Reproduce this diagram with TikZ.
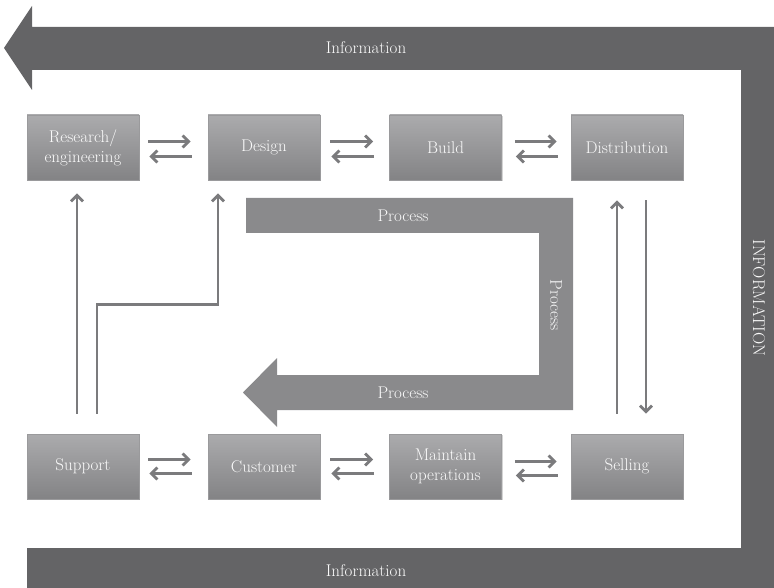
\documentclass[tikz,border=0pt]{standalone}
\usetikzlibrary{arrows.meta,shadows}

\definecolor{infogray}{HTML}{646466}
\definecolor{procgray}{HTML}{8A8A8C}
\definecolor{boxtop}{HTML}{ABABAD}
\definecolor{boxbot}{HTML}{838385}
\definecolor{boxedge}{HTML}{9A9A9C}
\definecolor{flowgray}{HTML}{7B7B7D}
\definecolor{labelwhite}{HTML}{FAFAFA}

\tikzset{
  labelfont/.style={font=\fontsize{17}{20}\selectfont},
  stage/.style={labelfont, minimum width=112pt, minimum height=65pt, inner sep=0pt,
    top color=boxtop, bottom color=boxbot, draw=boxedge, line width=0.6pt,
    text=labelwhite, align=center,
    drop shadow={opacity=0.35, shadow xshift=1.2pt, shadow yshift=-1.2pt}},
  flow/.style={draw=flowgray, line width=2.8pt,
    -{Straight Barb[length=6pt,width=12pt]}},
  banner/.style={labelfont, text=labelwhite, inner sep=0pt}
}

\begin{document}
\begin{tikzpicture}[x=1pt,y=-1pt]
\useasboundingbox (0,0) rectangle (774,588);

% outer information loop
\fill[infogray] (32,6) -- (4,48) -- (32,90) -- (32,70) -- (741,70) -- (741,548)
  -- (27,548) -- (27,588) -- (774,588) -- (774,27) -- (32,27) -- cycle;

% inner process arrow
\fill[procgray] (246,198) -- (573,198) -- (573,410) -- (277,410) -- (277,427)
  -- (243,392.5) -- (277,358) -- (277,375) -- (539,375) -- (539,233) -- (246,233) -- cycle;

% labels on the bands
\node[banner] (infotop) at (366,48) {Information};
\node[banner] (infobot) at (366,571) {Information};
\node[banner, rotate=-90] (inforight) at (759,298) {INFORMATION};
\node[banner] (proctop) at (403,216) {Process};
\node[banner, rotate=-90] (procright) at (556,305) {Process};
\node[banner] (procbot) at (403,393) {Process};

% stages
\node[stage] (research) at (83,147.5) {Research/\\engineering};
\node[stage] (design) at (264,147.5) {Design};
\node[stage] (build) at (445.5,147.5) {Build};
\node[stage] (distribution) at (627,147.5) {Distribution};
\node[stage] (support) at (83,466.5) {Support};
\node[stage] (customer) at (264,466.5) {Customer};
\node[stage] (maintain) at (445.5,466.5) {Maintain\\operations};
\node[stage] (selling) at (627,466.5) {Selling};

% two-way flows, top row
\draw[flow] ([xshift=9pt,yshift=6pt]research.east) -- ([xshift=-17pt,yshift=6pt]design.west);
\draw[flow] ([xshift=-16pt,yshift=-9pt]design.west) -- ([xshift=10pt,yshift=-9pt]research.east);
\draw[flow] ([xshift=10pt,yshift=6pt]design.east) -- ([xshift=-16pt,yshift=6pt]build.west);
\draw[flow] ([xshift=-15pt,yshift=-9pt]build.west) -- ([xshift=11pt,yshift=-9pt]design.east);
\draw[flow] ([xshift=13pt,yshift=6pt]build.east) -- ([xshift=-14pt,yshift=6pt]distribution.west);
\draw[flow] ([xshift=-13pt,yshift=-9pt]distribution.west) -- ([xshift=14pt,yshift=-9pt]build.east);

% two-way flows, bottom row
\draw[flow] ([xshift=9pt,yshift=7pt]support.east) -- ([xshift=-17pt,yshift=7pt]customer.west);
\draw[flow] ([xshift=-16pt,yshift=-7pt]customer.west) -- ([xshift=10pt,yshift=-7pt]support.east);
\draw[flow] ([xshift=10pt,yshift=7pt]customer.east) -- ([xshift=-16pt,yshift=7pt]maintain.west);
\draw[flow] ([xshift=-15pt,yshift=-7pt]maintain.west) -- ([xshift=11pt,yshift=-7pt]customer.east);
\draw[flow] ([xshift=13pt,yshift=5pt]maintain.east) -- ([xshift=-14pt,yshift=5pt]selling.west);
\draw[flow] ([xshift=-13pt,yshift=-9pt]selling.west) -- ([xshift=14pt,yshift=-9pt]maintain.east);

% vertical flows
\draw[flow] ([xshift=-6pt,yshift=20pt]support.north) -- ([xshift=-6pt,yshift=-13pt]research.south);
\draw[flow] ([xshift=14pt,yshift=20pt]support.north) -- ++(0,-109)
  -| ([xshift=-46pt,yshift=-13pt]design.south);
\draw[flow] ([xshift=-10pt,yshift=20pt]selling.north) -- ([xshift=-10pt,yshift=-20pt]distribution.south);
\draw[flow] ([xshift=19pt,yshift=-20pt]distribution.south) -- ([xshift=19pt,yshift=20pt]selling.north);
\end{tikzpicture}
\end{document}
